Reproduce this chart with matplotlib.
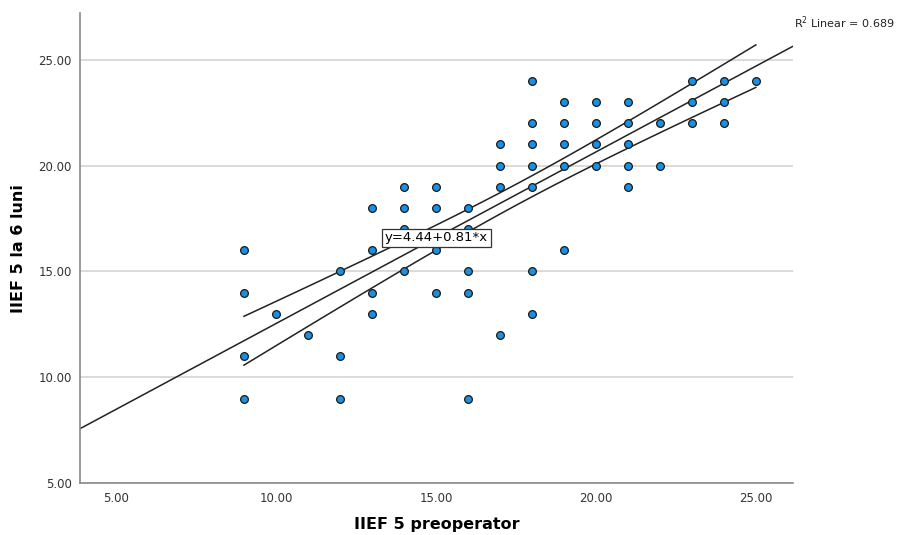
import numpy as np
import matplotlib.pyplot as plt

# IIEF 5 preoperator (x) vs IIEF 5 la 6 luni (y), one entry per dot, count = overlapping cases
pre = [9, 9, 9, 9, 10, 11, 12, 12, 12,
       13, 13, 13, 13, 14, 14, 14, 14, 15, 15, 15, 15,
       16, 16, 16, 16, 16, 17, 17, 17, 17,
       18, 18, 18, 18, 18, 18, 18, 19, 19, 19, 19, 19,
       20, 20, 20, 20, 21, 21, 21, 21, 21, 22, 22,
       23, 23, 23, 24, 24, 24, 25]
post = [16, 14, 11, 9, 13, 12, 15, 11, 9,
        18, 16, 14, 13, 19, 18, 17, 15, 19, 18, 16, 14,
        18, 17, 15, 14, 9, 21, 20, 19, 12,
        24, 22, 21, 20, 19, 15, 13, 23, 22, 21, 20, 16,
        23, 22, 21, 20, 23, 22, 21, 20, 19, 22, 20,
        24, 23, 22, 24, 23, 22, 24]
counts = [1, 1, 2, 1, 1, 1, 1, 2, 1,
          1, 1, 2, 2, 1, 1, 1, 1, 1, 1, 1, 1,
          1, 1, 1, 1, 1, 2, 2, 2, 1,
          1, 2, 2, 2, 2, 1, 1, 1, 2, 2, 2, 1,
          2, 2, 2, 2, 2, 2, 2, 2, 1, 1, 1,
          2, 2, 2, 2, 2, 1, 2]

intercept = 4.44
slope = 0.81
r2_text = "R$^2$ Linear = 0.689"

x = np.repeat(pre, counts).astype(float)
y = np.repeat(post, counts).astype(float)
n = len(x)
resid = y - (intercept + slope * x)
s = np.sqrt(np.sum(resid ** 2) / (n - 2))
sxx = np.sum((x - x.mean()) ** 2)
t = 1.984

fig = plt.figure(figsize=(9.03, 5.35), dpi=100)
ax = fig.add_axes([0.0886, 0.0966, 0.7895, 0.8791])

ax.set_xlim(3.875, 26.16)
ax.set_ylim(5, 27.2)
ax.set_yticks([5, 10, 15, 20, 25])
ax.set_xticks([5, 10, 15, 20, 25])
ax.set_yticklabels(["%.2f" % v for v in [5, 10, 15, 20, 25]])
ax.set_xticklabels(["%.2f" % v for v in [5, 10, 15, 20, 25]])
ax.tick_params(length=0, labelsize=8.5, colors="#333333", pad=6)
ax.yaxis.grid(True, color="#d4d4d4", linewidth=1.2)
ax.set_axisbelow(True)
for sp in ["top", "right"]:
    ax.spines[sp].set_visible(False)
for sp in ["left", "bottom"]:
    ax.spines[sp].set_color("#8a8a8a")
    ax.spines[sp].set_linewidth(1.2)

# fit line over whole axis, mean CI over data range
xf = np.linspace(3.875, 26.16, 50)
ax.plot(xf, intercept + slope * xf, color="#222222", lw=1.1, zorder=2)
xc = np.linspace(min(pre), max(pre), 100)
h = t * s * np.sqrt(1.0 / n + (xc - x.mean()) ** 2 / sxx)
ax.plot(xc, intercept + slope * xc + h, color="#222222", lw=1.1, zorder=2)
ax.plot(xc, intercept + slope * xc - h, color="#222222", lw=1.1, zorder=2)

ax.scatter(pre, post, s=31, color="#1b8fe0", edgecolor="#1a1a1a", linewidth=0.9, zorder=3)

ax.text(15.02, 16.58, "y=4.44+0.81*x", ha="center", va="center", fontsize=9.5,
        bbox=dict(boxstyle="square,pad=0.2", fc="white", ec="#333333", lw=0.9), zorder=4)

fig.text(0.879, 0.957, r2_text, fontsize=8, color="#222222", va="center", ha="left")

ax.set_xlabel("IIEF 5 preoperator", fontsize=11.5, fontweight="bold", labelpad=9)
ax.set_ylabel("IIEF 5 la 6 luni", fontsize=11.5, fontweight="bold", labelpad=9)

fig.savefig("out.png", dpi=100)
